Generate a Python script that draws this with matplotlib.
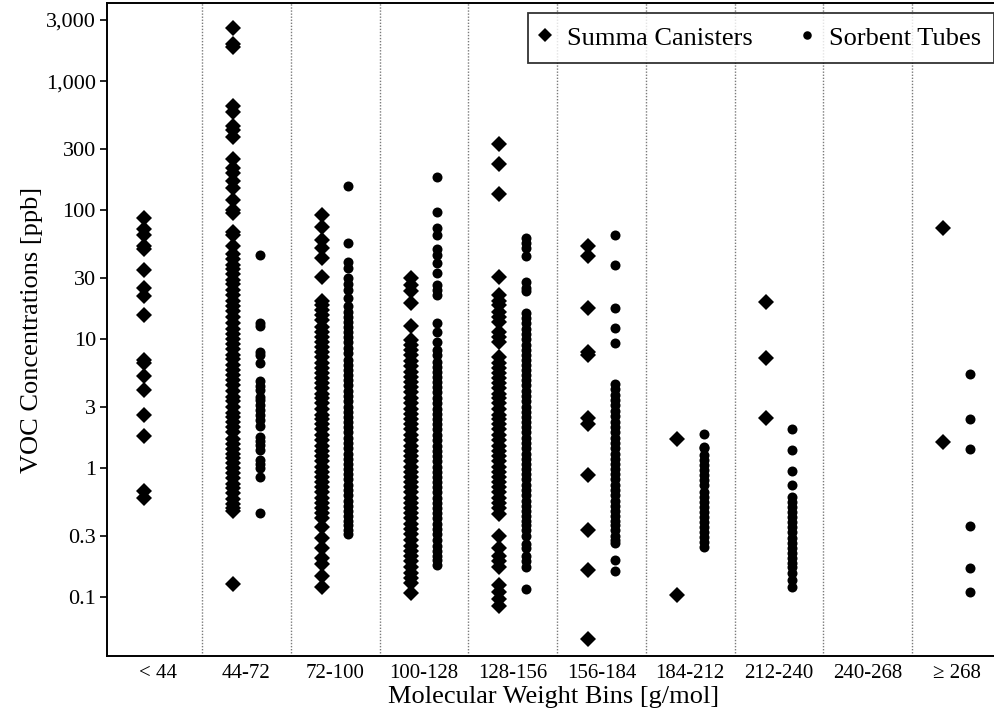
import matplotlib
matplotlib.use("Agg")
import matplotlib.pyplot as plt
from matplotlib.ticker import FixedLocator, FuncFormatter, NullLocator

plt.rcParams['font.family'] = ['Liberation Serif', 'DejaVu Serif']

bins = ["< 44", "44-72", "72-100", "100-128", "128-156",
        "156-184", "184-212", "212-240", "240-268", "\u2265 268"]

# Summa canister concentrations (ppb) per molecular weight bin
summa_lt44 = [88, 72, 65, 53, 50, 34.6, 24.8, 21.5, 15.5, 6.9, 6.5, 5.15,
              4.06, 2.58, 1.77, 0.67, 0.59]
summa_44_72 = [2600, 1950, 1835, 640, 580, 453, 422, 368, 250, 213, 195, 168,
               149, 121, 101, 95, 68.6, 64.7, 52.5,
               46, 42, 38, 35, 32, 29, 27, 24, 22, 20, 18, 16.5, 15, 13.5,
               12, 11, 10, 9.2, 8.4, 7.6, 7, 6.3, 5.8, 5.3, 4.8, 4.4, 4,
               3.6, 3.3, 3, 2.7, 2.5, 2.3, 2.1, 1.9, 1.7, 1.55, 1.4, 1.3,
               1.2, 1.1, 1.0, 0.92, 0.84, 0.76, 0.7, 0.64, 0.58, 0.53, 0.49,
               0.47, 0.126]
summa_72_100 = [92, 75, 59, 51, 43, 30.7,
                20, 18.5, 17, 15.5, 14, 12.5, 11.5, 10.5, 9.5, 8.7, 8, 7.3,
                6.6, 6, 5.5, 5, 4.6, 4.2, 3.8, 3.5, 3.2, 2.9, 2.6, 2.4, 2.2,
                2, 1.8, 1.65, 1.5, 1.37, 1.25, 1.13, 1.03, 0.94, 0.86, 0.78,
                0.71, 0.65, 0.59, 0.54, 0.49, 0.45, 0.41,
                0.35, 0.29, 0.24, 0.2, 0.18, 0.145, 0.121]
summa_100_128 = [29.8, 26.5, 23.6, 19.2, 12.6,
                 9.9, 9, 8.2, 7.5, 6.8, 6.2, 5.6, 5.1, 4.7, 4.3, 3.9, 3.5,
                 3.2, 2.9, 2.65, 2.4, 2.2, 2, 1.8, 1.65, 1.5, 1.37, 1.25,
                 1.13, 1.03, 0.94, 0.86, 0.78, 0.71, 0.65, 0.59, 0.54, 0.49,
                 0.45, 0.41, 0.37, 0.34, 0.31, 0.28, 0.25, 0.23, 0.21, 0.19,
                 0.17, 0.155, 0.14, 0.128, 0.107]
summa_128_156 = [330, 230, 135, 30.5, 22, 20, 18.5, 16.4, 15, 13.7, 11.5,
                 10.5, 9.6,
                 7.3, 6.6, 6, 5.5, 5, 4.6, 4.2, 3.8, 3.5, 3.2, 2.9, 2.6, 2.4,
                 2.2, 2, 1.8, 1.65, 1.5, 1.37, 1.25, 1.13, 1.03, 0.94, 0.86,
                 0.78, 0.71, 0.65, 0.59, 0.54, 0.49, 0.44,
                 0.30, 0.24, 0.21, 0.19, 0.17, 0.125, 0.11, 0.097, 0.085]
summa_156_184 = [52.5, 44, 17.5, 8.0, 7.6, 2.45, 2.2, 0.89, 0.333, 0.163,
                 0.047]
summa_184_212 = [1.69, 0.104]
summa_212_240 = [19.6, 7.15, 2.45]
summa_240_268 = []
summa_ge268 = [73, 1.61]

# Sorbent tube concentrations (ppb) per molecular weight bin
tubes_lt44 = []
tubes_44_72 = [44.7, 13.4, 12.6, 8.04, 7.58, 6.54, 4.71, 4.35, 4.06, 3.6,
               3.39, 3.1, 2.84, 2.6, 2.38, 2.11, 1.76, 1.63, 1.52, 1.39,
               1.16, 1.08, 1.0, 0.86, 0.45]
tubes_72_100 = [155, 56, 40, 36, 30, 27, 24, 21, 18, 16.4, 15, 13.7, 12.5,
                11.4, 10.4, 9.5, 8.6, 7.8,
                6.9, 6.3, 5.8, 5.3, 4.8, 4.4, 4, 3.65, 3.3, 3, 2.75, 2.5,
                2.3, 2.1, 1.9, 1.72, 1.57, 1.43, 1.3, 1.18, 1.08, 0.98, 0.9,
                0.82, 0.74, 0.68, 0.62, 0.56, 0.51, 0.47, 0.43, 0.39, 0.36,
                0.33, 0.31]
tubes_100_128 = [183, 98, 73, 65, 50, 45, 39, 32.6, 26.5, 24, 22, 13.4,
                 11.5, 9.6, 8.3, 7.5, 6.7,
                 6.15, 5.6, 5.1, 4.7, 4.3, 3.9, 3.5, 3.2, 2.9, 2.65, 2.4,
                 2.2, 2, 1.8, 1.65, 1.5, 1.37, 1.25, 1.13, 1.03, 0.94, 0.86,
                 0.78, 0.71, 0.65, 0.59, 0.54, 0.49, 0.45, 0.41, 0.37, 0.34,
                 0.31, 0.28, 0.25, 0.23, 0.21, 0.195, 0.178]
tubes_128_156 = [61, 56, 51, 44, 28, 25, 23.5,
                 16, 14.6, 13.3, 12.1, 11, 10, 9.1, 8.3, 7.6, 6.9, 6.3, 5.8,
                 5.3, 4.8, 4.4, 4, 3.65, 3.3, 3, 2.75, 2.5, 2.3, 2.1, 1.9,
                 1.72, 1.57, 1.43, 1.3, 1.18, 1.08, 0.98, 0.9, 0.82, 0.74,
                 0.68, 0.62, 0.56, 0.51, 0.47, 0.43, 0.39, 0.36, 0.33, 0.3,
                 0.26, 0.24, 0.21, 0.19, 0.17, 0.115]
tubes_156_184 = [65, 37.8, 17.5, 12.2, 9.3,
                 4.5, 4.1, 3.7, 3.4, 3.1, 2.8, 2.55, 2.3, 2.1, 1.9, 1.72,
                 1.57, 1.43, 1.3, 1.18, 1.08, 0.98, 0.9, 0.82, 0.74, 0.68,
                 0.62, 0.56, 0.51, 0.47, 0.43, 0.39, 0.36, 0.33, 0.3, 0.28,
                 0.262, 0.195, 0.16]
tubes_184_212 = [1.85, 1.47, 1.43, 1.27, 1.16, 1.06, 0.97, 0.89, 0.81, 0.74,
                 0.66, 0.60, 0.55, 0.50, 0.46, 0.42, 0.386, 0.353, 0.32,
                 0.294, 0.269, 0.247]
tubes_212_240 = [2.01, 1.39, 0.955, 0.743, 0.6, 0.55, 0.5, 0.46, 0.42,
                 0.385, 0.35, 0.32, 0.29, 0.265, 0.24, 0.22, 0.2, 0.185,
                 0.17, 0.155, 0.136, 0.12]
tubes_240_268 = []
tubes_ge268 = [5.4, 2.4, 1.41, 0.359, 0.168, 0.110]

summa = [summa_lt44, summa_44_72, summa_72_100, summa_100_128, summa_128_156,
         summa_156_184, summa_184_212, summa_212_240, summa_240_268,
         summa_ge268]
tubes = [tubes_lt44, tubes_44_72, tubes_72_100, tubes_100_128, tubes_128_156,
         tubes_156_184, tubes_184_212, tubes_212_240, tubes_240_268,
         tubes_ge268]

W, H = 995, 713
fig = plt.figure(figsize=(W / 100, H / 100), dpi=100)
ax = fig.add_axes([107 / W, 57 / H, 893 / W, 653 / H])

for i, (s, t) in enumerate(zip(summa, tubes)):
    ax.plot([i - 0.15] * len(s), s, 'D', color='k', ms=8.0, mew=0,
            label="Summa Canisters" if i == 0 else None)
    ax.plot([i + 0.15] * len(t), t, 'o', color='k', ms=7.2, mew=0,
            label="Sorbent Tubes" if i == 1 else None)

# dotted separators between the weight bins
for k in range(len(bins) - 1):
    ax.axvline(k + 0.5, color='#7a7a7a', ls=(0, (1, 1.2)), lw=1.0, zorder=0)

ax.set_yscale('log')
ax.set_ylim(0.035, 4060)
ax.set_xlim(-0.57, 9.49)

yt = [0.1, 0.3, 1, 3, 10, 30, 100, 300, 1000, 3000]
ax.yaxis.set_major_locator(FixedLocator(yt))
ax.yaxis.set_minor_locator(NullLocator())
ax.yaxis.set_major_formatter(FuncFormatter(
    lambda v, p: f"{v:,.0f}" if v >= 1 else f"{v:g}"))
ax.set_xticks(range(len(bins)))
ax.set_xticklabels(bins)
ax.tick_params(axis='y', direction='out', length=5, width=1.2,
               labelsize=16, pad=3)
ax.tick_params(axis='x', length=0, labelsize=15, pad=6)

for side in ['left', 'bottom', 'top']:
    ax.spines[side].set_linewidth(1.4)
ax.spines['right'].set_visible(False)

ax.set_ylabel("VOC Concentrations [ppb]", fontsize=19, labelpad=2)
ax.set_xlabel("Molecular Weight Bins [g/mol]", fontsize=19, labelpad=2)

leg = ax.legend(loc='upper left', bbox_to_anchor=(0.4714, 0.9847), ncol=2,
                fontsize=19, frameon=True, fancybox=False, borderaxespad=0,
                handlelength=0.3, handletextpad=0.68, columnspacing=1.9,
                borderpad=0.5, markerscale=0.85)
leg.get_frame().set_edgecolor('k')
leg.get_frame().set_linewidth(1.3)

fig.savefig("out.png", dpi=100)
